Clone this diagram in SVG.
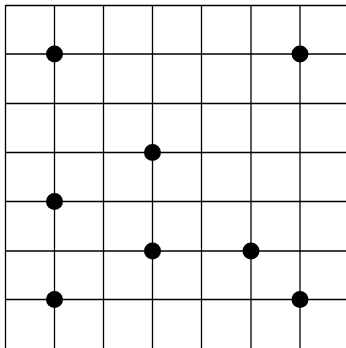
<svg xmlns="http://www.w3.org/2000/svg" width="346" height="348" viewBox="0 0 346 348">
<style>
.g line{stroke:#000;stroke-width:1.3}
.d circle{fill:#000}
</style>
<rect width="346" height="348" fill="#fff"/>
<g id="grid" class="g">
<line x1="5.5" y1="5" x2="5.5" y2="348"/>
<line x1="54.5" y1="5" x2="54.5" y2="348"/>
<line x1="103.5" y1="5" x2="103.5" y2="348"/>
<line x1="152.5" y1="5" x2="152.5" y2="348"/>
<line x1="201.5" y1="5" x2="201.5" y2="348"/>
<line x1="251" y1="5" x2="251" y2="348"/>
<line x1="300" y1="5" x2="300" y2="348"/>
<line x1="5" y1="5.5" x2="346" y2="5.5"/>
<line x1="5" y1="54" x2="346" y2="54"/>
<line x1="5" y1="103.5" x2="346" y2="103.5"/>
<line x1="5" y1="152.5" x2="346" y2="152.5"/>
<line x1="5" y1="201.5" x2="346" y2="201.5"/>
<line x1="5" y1="251" x2="346" y2="251"/>
<line x1="5" y1="299.5" x2="346" y2="299.5"/>
</g>
<g id="dots" class="d">
<circle cx="54.5" cy="54" r="8.5"/>
<circle cx="300" cy="54" r="8.5"/>
<circle cx="152.5" cy="152.5" r="8.5"/>
<circle cx="54.5" cy="201.5" r="8.5"/>
<circle cx="152.5" cy="251" r="8.5"/>
<circle cx="251" cy="251" r="8.5"/>
<circle cx="54.5" cy="299.5" r="8.5"/>
<circle cx="300" cy="299.5" r="8.5"/>
</g>
</svg>
